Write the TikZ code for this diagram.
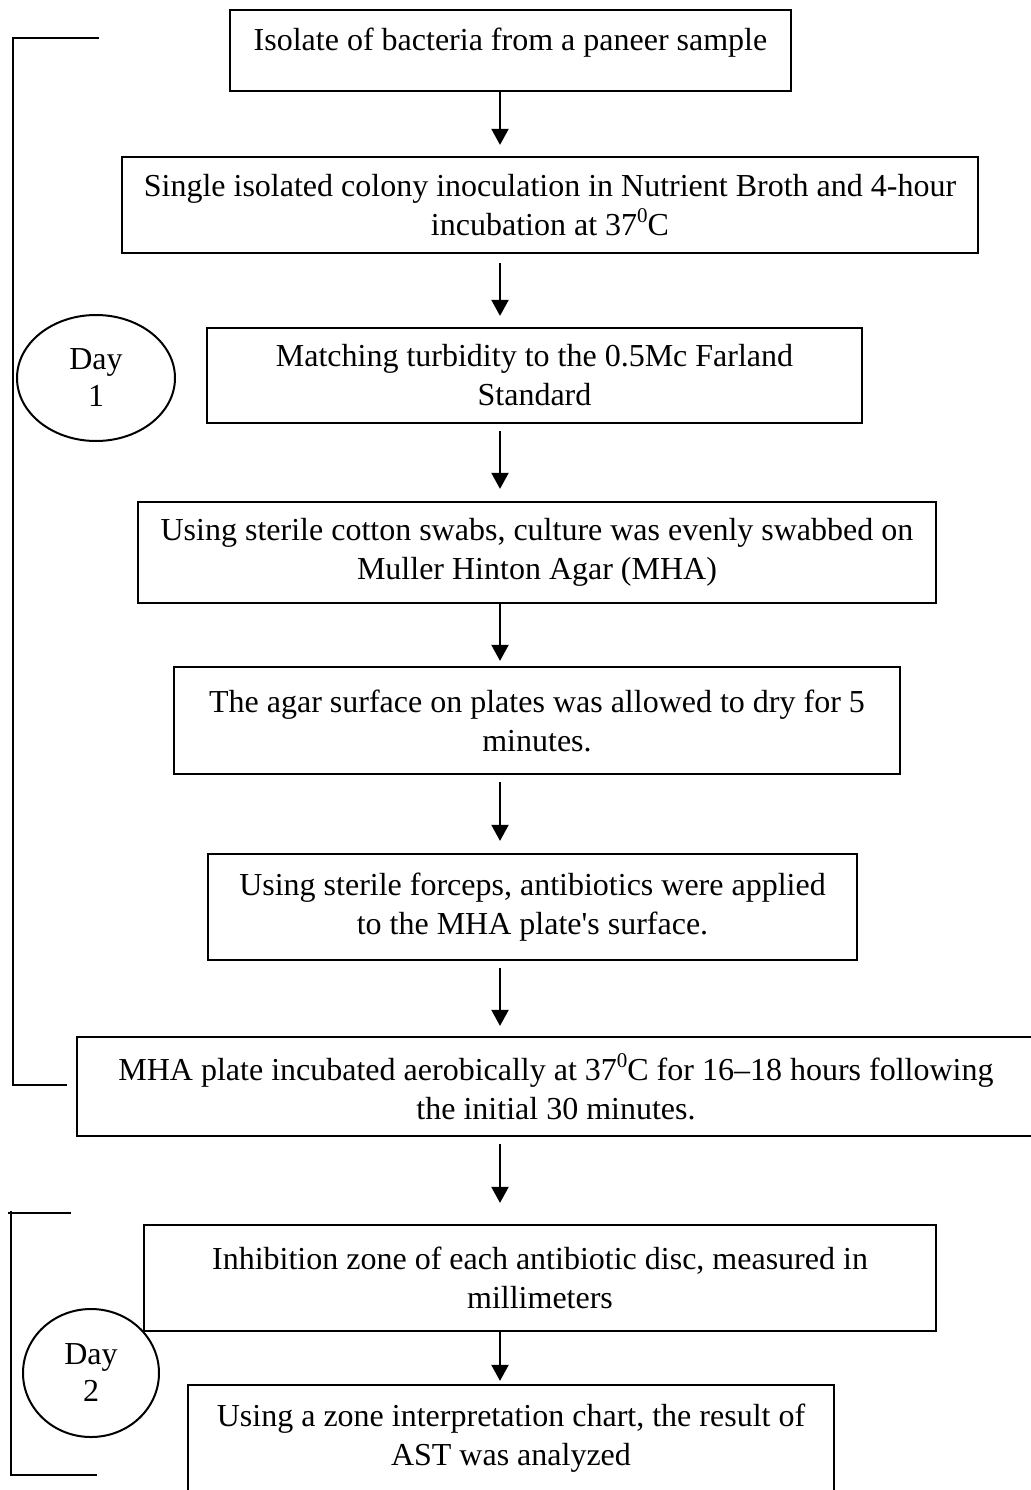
\documentclass[tikz,border=0pt]{standalone}
\usepackage{fontspec}
\setmainfont{Liberation Serif}[Ligatures=TeXOff]
\usetikzlibrary{arrows.meta,shapes.geometric}
\newcommand{\degsup}{\raisebox{0.42em}{\fontsize{21}{21}\selectfont 0}}
\begin{document}
\begin{tikzpicture}[x=1pt,y=-1pt,
  box/.style={draw, line width=2.2pt, rectangle, inner sep=0pt, align=center,
    font=\fontsize{32}{39}\selectfont},
  dayshape/.style={draw, ellipse, line width=2pt, inner sep=0pt, align=center,
    font=\fontsize{32}{37}\selectfont},
  flow/.style={line width=2pt, -{Triangle[width=17pt,length=16pt]}},
  bracket/.style={line width=1.3pt}
]
\useasboundingbox (0,0) rectangle (1030,1490);
\fill[white] (0,0) rectangle (1030,1490);

\node[box, minimum width=561pt, minimum height=81pt, text height=22pt, text depth=22pt] (b1) at (510.5,50.5)
  {Isolate of bacteria from a paneer sample};
\node[box, minimum width=856pt, minimum height=96pt] (b2) at (550,205)
  {Single isolated colony inoculation in Nutrient Broth and 4-hour\\incubation at 37\degsup C};
\node[box, minimum width=655pt, minimum height=95pt] (b3) at (534.5,375.5)
  {Matching turbidity to the 0.5Mc Farland\\Standard};
\node[box, minimum width=798pt, minimum height=101pt] (b4) at (537,552.5)
  {Using sterile cotton swabs, culture was evenly swabbed on\\Muller Hinton Agar (MHA)};
\node[box, minimum width=726pt, minimum height=107pt] (b5) at (537,720.5)
  {The agar surface on plates was allowed to dry for 5\\minutes.};
\node[box, minimum width=649pt, minimum height=106pt] (b6) at (532.5,907)
  {Using sterile forceps, antibiotics were applied\\to the MHA plate's surface.};
\node[box, minimum width=958pt, minimum height=99pt] (b7) at (556,1086.5)
  {MHA plate incubated aerobically at 37\degsup C for 16–18 hours following\\the initial 30 minutes.};
\node[box, minimum width=792pt, minimum height=106pt] (b8) at (540,1278)
  {Inhibition zone of each antibiotic disc, measured in\\millimeters};
\node[box, minimum width=646pt, minimum height=106pt] (b9) at (511,1438)
  {Using a zone interpretation chart, the result of\\AST was analyzed};

\node[dayshape, minimum width=158pt, minimum height=126pt] (d1) at (96,378) {Day\\1};
\node[dayshape, minimum width=136pt, minimum height=128pt] (d2) at (91,1373) {Day\\2};

\coordinate (ax) at (500,0);
\draw[flow, shorten >=11pt] (b1.south -| ax) -- (b2.north -| ax);
\draw[flow, shorten <=9pt, shorten >=11pt] (b2.south -| ax) -- (b3.north -| ax);
\draw[flow, shorten <=7pt, shorten >=12pt] (b3.south -| ax) -- (b4.north -| ax);
\draw[flow, shorten >=5pt] (b4.south -| ax) -- (b5.north -| ax);
\draw[flow, shorten <=7pt, shorten >=12pt] (b5.south -| ax) -- (b6.north -| ax);
\draw[flow, shorten <=7pt, shorten >=10pt] (b6.south -| ax) -- (b7.north -| ax);
\draw[flow, shorten <=7pt, shorten >=21pt] (b7.south -| ax) -- (b8.north -| ax);
\draw[flow, shorten >=3pt] (b8.south -| ax) -- (b9.north -| ax);

\draw[bracket] (99,38) -- (13,38) -- (13,1085) -- (67,1085);
\draw[bracket] (8,1213) -- (71,1213);
\draw[bracket] (11,1211) -- (11,1475) -- (97,1475);
\end{tikzpicture}
\end{document}
